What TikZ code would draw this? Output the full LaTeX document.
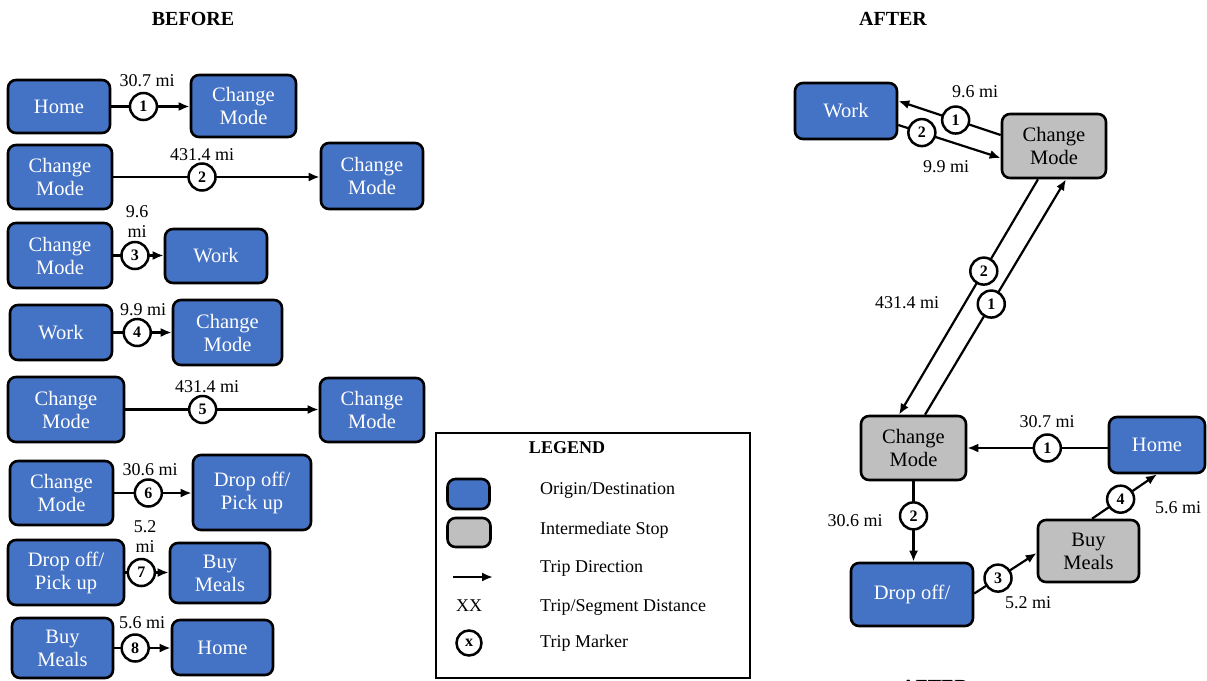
\documentclass[tikz,border=0pt]{standalone}
\usepackage{fontspec}
\setmainfont{LiberationSerif}[Extension=.ttf, UprightFont=*-Regular, BoldFont=*-Bold,
  ItalicFont=*-Italic, BoldItalicFont=*-BoldItalic]
\usetikzlibrary{arrows.meta,calc}

\definecolor{odblue}{HTML}{4472C4}
\definecolor{stopgray}{HTML}{BFBFBF}

\newcommand\boxfont{\fontsize{20.5}{23}\selectfont}
\newcommand\lblfont{\fontsize{18}{20}\selectfont}
\newcommand\mkfont{\fontsize{16}{17}\selectfont\bfseries}
\newcommand\ttlfont{\fontsize{20}{22}\selectfont\bfseries}

\tikzset{
  odbox/.style={draw=black, line width=2.6pt, rounded corners=8pt, fill=odblue,
    text=white, align=center, inner sep=0pt, font=\boxfont},
  stopbox/.style={odbox, fill=stopgray, text=black},
  mk/.style={circle, draw=black, line width=2.5pt, fill=white, inner sep=0pt,
    minimum size=27pt, font=\mkfont},
  lbl/.style={font=\lblfont, inner sep=0pt, align=center},
  trip/.style={line width=2.2pt, -{Latex[length=11pt,width=9pt]}},
  ttl/.style={font=\ttlfont, inner sep=0pt},
}

\begin{document}
\begin{tikzpicture}[x=1pt,y=-1pt]
\useasboundingbox (0,0) rectangle (1207,680);
\clip (0,0) rectangle (1207,680);
\fill[white] (0,0) rectangle (1207,680);

% ---------- titles ----------
\node[ttl] (tb) at (193,19) {BEFORE};
\node[ttl] (ta) at (893,19) {AFTER};
\node[ttl] (ta2) at (935,687) {AFTER};

% ---------- BEFORE: individual trips ----------
% trip 1
\node[odbox, minimum width=102pt, minimum height=53pt] (b1a) at (59,106.5) {Home};
\node[odbox, minimum width=105pt, minimum height=62pt] (b1b) at (243.5,106) {Change\\Mode};
\draw[trip] (b1a.east) -- node[mk, pos=0.41] (m1) {1} (b1a.east -| b1b.west);
\node[lbl] (d1) at (147,81) {30.7 mi};

% trip 2
\node[odbox, minimum width=104pt, minimum height=64pt] (b2a) at (60,177) {Change\\Mode};
\node[odbox, minimum width=102pt, minimum height=66pt] (b2b) at (372,176) {Change\\Mode};
\draw[trip] (b2a.east) -- node[mk, pos=0.43] (m2) {2} (b2a.east -| b2b.west);
\node[lbl] (d2) at (202,155) {431.4 mi};

% trip 3
\node[odbox, minimum width=104pt, minimum height=65pt] (b3a) at (60,255.5) {Change\\Mode};
\node[odbox, minimum width=102pt, minimum height=54pt] (b3b) at (216,256) {Work};
\draw[trip] (b3a.east) -- node[mk, pos=0.43] (m3) {3} (b3a.east -| b3b.west);
\node[lbl] (d3) at (137,222) {9.6\\mi};

% trip 4
\node[odbox, minimum width=102pt, minimum height=55pt] (b4a) at (61,332.5) {Work};
\node[odbox, minimum width=109pt, minimum height=65pt] (b4b) at (227.5,332.5) {Change\\Mode};
\draw[trip] (b4a.east) -- node[mk, pos=0.41] (m4) {4} (b4a.east -| b4b.west);
\node[lbl] (d4) at (143,310) {9.9 mi};

% trip 5
\node[odbox, minimum width=116pt, minimum height=65pt] (b5a) at (66,409.5) {Change\\Mode};
\node[odbox, minimum width=104pt, minimum height=64pt] (b5b) at (372,410) {Change\\Mode};
\draw[trip] (b5a.east) -- node[mk, pos=0.40] (m5) {5} (b5a.east -| b5b.west);
\node[lbl] (d5) at (207,387) {431.4 mi};

% trip 6
\node[odbox, minimum width=103pt, minimum height=64pt] (b6a) at (61.5,493) {Change\\Mode};
\node[odbox, minimum width=118pt, minimum height=75pt] (b6b) at (252,492.5) {Drop off/\\Pick up};
\draw[trip] (b6a.east) -- node[mk, pos=0.44] (m6) {6} (b6a.east -| b6b.west);
\node[lbl] (d6) at (150,470) {30.6 mi};

% trip 7
\node[odbox, minimum width=116pt, minimum height=65pt] (b7a) at (66,572.5) {Drop off/\\Pick up};
\node[odbox, minimum width=100pt, minimum height=60pt] (b7b) at (220,573) {Buy\\Meals};
\draw[trip] (b7a.east) -- node[mk, pos=0.37] (m7) {7} (b7a.east -| b7b.west);
\node[lbl] (d7) at (145,537) {5.2\\mi};

% trip 8
\node[odbox, minimum width=101pt, minimum height=60pt] (b8a) at (62.5,648) {Buy\\Meals};
\node[odbox, minimum width=101pt, minimum height=55pt] (b8b) at (222.5,647.5) {Home};
\draw[trip] (b8a.east) -- node[mk, pos=0.37] (m8) {8} (b8a.east -| b8b.west);
\node[lbl] (d8) at (142,623) {5.6 mi};

% ---------- legend ----------
\node[draw=black, line width=1.6pt, minimum width=314pt, minimum height=245pt, inner sep=0pt]
  (lg) at (593,555.5) {};
\node[font=\fontsize{18}{20}\selectfont\bfseries, inner sep=0pt] (lgt) at (567,448) {LEGEND};
\node[odbox, minimum width=42pt, minimum height=30pt] (lgb) at (468.5,494) {};
\node[stopbox, minimum width=43pt, minimum height=29pt] (lgg) at (469,532.5) {};
\coordinate (lga) at (453,577);
\coordinate (lgz) at (493,577);
\draw[trip] (lga) -- (lgz);
\node[lbl] (lgx) at (469,606) {XX};
\node[mk, minimum size=25pt] (lgm) at (469,643) {x};
\begin{scope}[every node/.style={lbl, anchor=west}]
  \node (lt1) at (540,490) {Origin/Destination};
  \node (lt2) at (540,530) {Intermediate Stop};
  \node (lt3) at (540,568) {Trip Direction};
  \node (lt4) at (540,607) {Trip/Segment Distance};
  \node (lt5) at (540,643) {Trip Marker};
\end{scope}

% ---------- AFTER: chained tour ----------
\node[odbox, minimum width=102pt, minimum height=56pt] (work) at (846,111) {Work};
\node[stopbox, minimum width=104pt, minimum height=64pt] (cmt) at (1054,146) {Change\\Mode};
\node[stopbox, minimum width=105pt, minimum height=64pt] (cml) at (913.5,448) {Change\\Mode};
\node[odbox, minimum width=96pt, minimum height=56pt] (home) at (1157,445) {Home};
\node[odbox, minimum width=122pt, minimum height=63pt] (drop) at (912,594.5) {Drop off/};
\node[stopbox, minimum width=101pt, minimum height=62pt] (meal) at (1088.5,551) {Buy\\Meals};

% work <-> upper change mode
\draw[trip] ([yshift=11pt]cmt.west) -- node[mk, pos=0.44] (r1) {1} ([yshift=10pt]work.east);
\draw[trip] ([yshift=-14pt]work.east) -- node[mk, pos=0.23] (r2) {2} ([yshift=-12pt]cmt.west);
\node[lbl] (rd1) at (975,92) {9.6 mi};
\node[lbl] (rd2) at (946,167) {9.9 mi};

% long segment between the two change-mode stops
\draw[trip] ([xshift=-16pt]cmt.south) -- node[mk, pos=0.39] (r3) {2} ([xshift=-14.5pt]cml.north);
\draw[trip] ([xshift=11.5pt]cml.north) -- node[mk, pos=0.47] (r4) {1} ([xshift=12pt]cmt.south);
\node[lbl] (rd3) at (907,303) {431.4 mi};

% home -> change mode -> drop off -> buy meals -> home
\draw[trip] ([yshift=-3pt]home.west) -- node[mk, pos=0.43] (r5) {1} (cml.east);
\node[lbl] (rd5) at (1047,422) {30.7 mi};
\draw[trip] (cml.south) -- node[mk, pos=0.43] (r6) {2} (cml.south |- drop.north);
\node[lbl] (rd6) at (855,521) {30.6 mi};
\draw[trip] ([yshift=1pt]drop.east) -- node[mk, pos=0.38] (r7) {3} ([yshift=-2pt]meal.west);
\node[lbl] (rd7) at (1028,603) {5.2 mi};
\draw[trip] ([xshift=3.5pt]meal.north) -- node[mk, pos=0.44] (r8) {4} (home.south);
\node[lbl] (rd8) at (1178,508) {5.6 mi};
\end{tikzpicture}
\end{document}
